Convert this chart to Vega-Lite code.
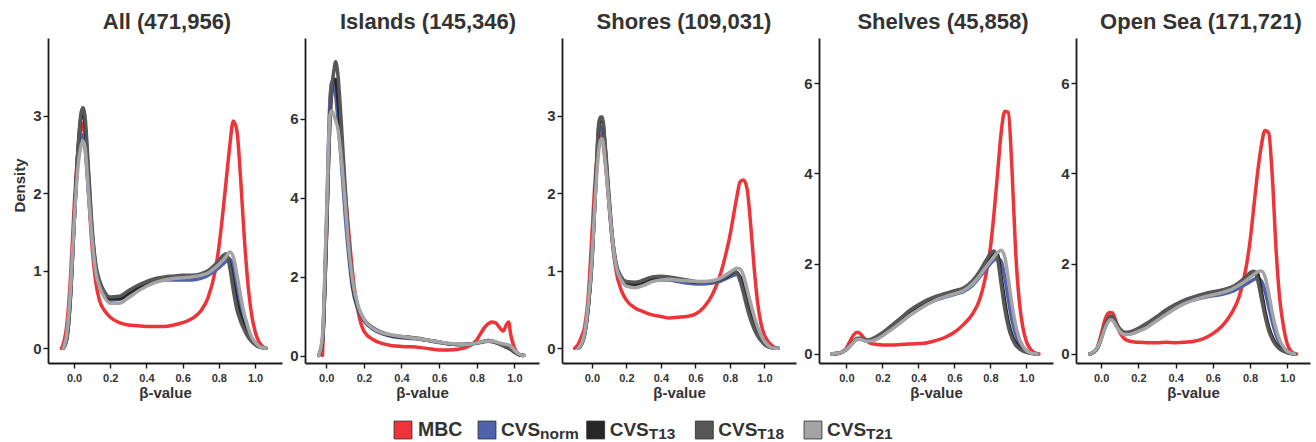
{
  "$schema": "https://vega.github.io/schema/vega-lite/v6.json",
  "background": "white",
  "padding": {"left": 12, "top": 11, "right": 4, "bottom": 4},
  "config": {
    "view": {"stroke": null},
    "font": "Liberation Sans",
    "axis": {"grid": false, "domainColor": "#1a1a1a", "domainWidth": 1.8, "tickColor": "#1a1a1a", "tickWidth": 1.4, "tickSize": 5, "labelFont": "Liberation Sans", "labelFontWeight": "bold", "labelColor": "#333333", "titleFont": "Liberation Sans", "titleFontWeight": "bold", "titleColor": "#333333"},
    "title": {"fontSize": 22, "fontWeight": "bold", "color": "#333333", "anchor": "middle", "offset": 4, "font": "Liberation Sans"},
    "line": {"interpolate": "monotone", "strokeJoin": "round", "strokeCap": "round"}
  },
  "datasets": {
    "d": [
      {"r":"All","x":0.0,"MBC":1.8,"CVSnorm":1.6,"CVST13":1.6,"CVST18":1.6,"CVST21":1.6},
      {"r":"All","x":-0.06,"MBC":0.05,"CVSnorm":0,"CVST13":0,"CVST18":0,"CVST21":0},
      {"r":"All","x":-0.04,"MBC":0.3,"CVSnorm":0.15,"CVST13":0.12,"CVST18":0.12,"CVST21":0.18},
      {"r":"All","x":-0.02,"MBC":0.9,"CVSnorm":0.7,"CVST13":0.65,"CVST18":0.65,"CVST21":0.75},
      {"r":"All","x":0.02,"MBC":2.5,"CVSnorm":2.4,"CVST13":2.5,"CVST18":2.5,"CVST21":2.3},
      {"r":"All","x":0.04,"MBC":2.85,"CVSnorm":2.75,"CVST13":3.0,"CVST18":3.05,"CVST21":2.62},
      {"r":"All","x":0.05,"MBC":2.9,"CVSnorm":2.75,"CVST13":3.05,"CVST18":3.1,"CVST21":2.67},
      {"r":"All","x":0.06,"MBC":2.7,"CVSnorm":2.6,"CVST13":2.9,"CVST18":3.0,"CVST21":2.6},
      {"r":"All","x":0.08,"MBC":2.0,"CVSnorm":2.0,"CVST13":2.2,"CVST18":2.3,"CVST21":2.0},
      {"r":"All","x":0.10,"MBC":1.3,"CVSnorm":1.4,"CVST13":1.5,"CVST18":1.55,"CVST21":1.4},
      {"r":"All","x":0.12,"MBC":0.85,"CVSnorm":1.0,"CVST13":1.05,"CVST18":1.08,"CVST21":0.98},
      {"r":"All","x":0.14,"MBC":0.62,"CVSnorm":0.82,"CVST13":0.85,"CVST18":0.88,"CVST21":0.8},
      {"r":"All","x":0.17,"MBC":0.48,"CVSnorm":0.68,"CVST13":0.7,"CVST18":0.72,"CVST21":0.65},
      {"r":"All","x":0.20,"MBC":0.4,"CVSnorm":0.62,"CVST13":0.64,"CVST18":0.66,"CVST21":0.58},
      {"r":"All","x":0.25,"MBC":0.33,"CVSnorm":0.63,"CVST13":0.64,"CVST18":0.67,"CVST21":0.58},
      {"r":"All","x":0.30,"MBC":0.3,"CVSnorm":0.69,"CVST13":0.7,"CVST18":0.74,"CVST21":0.65},
      {"r":"All","x":0.35,"MBC":0.29,"CVSnorm":0.76,"CVST13":0.78,"CVST18":0.81,"CVST21":0.73},
      {"r":"All","x":0.40,"MBC":0.28,"CVSnorm":0.82,"CVST13":0.84,"CVST18":0.86,"CVST21":0.8},
      {"r":"All","x":0.45,"MBC":0.28,"CVSnorm":0.86,"CVST13":0.88,"CVST18":0.9,"CVST21":0.85},
      {"r":"All","x":0.50,"MBC":0.28,"CVSnorm":0.88,"CVST13":0.9,"CVST18":0.92,"CVST21":0.88},
      {"r":"All","x":0.55,"MBC":0.3,"CVSnorm":0.88,"CVST13":0.91,"CVST18":0.93,"CVST21":0.9},
      {"r":"All","x":0.60,"MBC":0.33,"CVSnorm":0.88,"CVST13":0.92,"CVST18":0.94,"CVST21":0.91},
      {"r":"All","x":0.65,"MBC":0.38,"CVSnorm":0.88,"CVST13":0.92,"CVST18":0.94,"CVST21":0.92},
      {"r":"All","x":0.70,"MBC":0.48,"CVSnorm":0.9,"CVST13":0.95,"CVST18":0.96,"CVST21":0.94},
      {"r":"All","x":0.74,"MBC":0.65,"CVSnorm":0.94,"CVST13":0.99,"CVST18":1.0,"CVST21":0.97},
      {"r":"All","x":0.78,"MBC":1.0,"CVSnorm":1.0,"CVST13":1.06,"CVST18":1.08,"CVST21":1.04},
      {"r":"All","x":0.80,"MBC":1.3,"CVSnorm":1.04,"CVST13":1.1,"CVST18":1.13,"CVST21":1.08},
      {"r":"All","x":0.82,"MBC":1.7,"CVSnorm":1.08,"CVST13":1.16,"CVST18":1.19,"CVST21":1.13},
      {"r":"All","x":0.84,"MBC":2.15,"CVSnorm":1.12,"CVST13":1.2,"CVST18":1.22,"CVST21":1.18},
      {"r":"All","x":0.86,"MBC":2.6,"CVSnorm":1.15,"CVST13":1.1,"CVST18":1.05,"CVST21":1.24},
      {"r":"All","x":0.88,"MBC":2.93,"CVSnorm":1.05,"CVST13":0.85,"CVST18":0.75,"CVST21":1.18},
      {"r":"All","x":0.90,"MBC":2.8,"CVSnorm":0.8,"CVST13":0.6,"CVST18":0.5,"CVST21":0.95},
      {"r":"All","x":0.92,"MBC":2.2,"CVSnorm":0.55,"CVST13":0.42,"CVST18":0.35,"CVST21":0.68},
      {"r":"All","x":0.94,"MBC":1.45,"CVSnorm":0.38,"CVST13":0.28,"CVST18":0.24,"CVST21":0.45},
      {"r":"All","x":0.96,"MBC":0.85,"CVSnorm":0.24,"CVST13":0.17,"CVST18":0.15,"CVST21":0.28},
      {"r":"All","x":0.98,"MBC":0.45,"CVSnorm":0.13,"CVST13":0.1,"CVST18":0.09,"CVST21":0.15},
      {"r":"All","x":1.00,"MBC":0.22,"CVSnorm":0.07,"CVST13":0.05,"CVST18":0.05,"CVST21":0.08},
      {"r":"All","x":1.02,"MBC":0.09,"CVSnorm":0.03,"CVST13":0.02,"CVST18":0.02,"CVST21":0.03},
      {"r":"All","x":1.04,"MBC":0.03,"CVSnorm":0.01,"CVST13":0.01,"CVST18":0.01,"CVST21":0.01},
      {"r":"All","x":1.06,"MBC":0,"CVSnorm":0,"CVST13":0,"CVST18":0,"CVST21":0},
      {"r":"All","x":-0.07,"MBC":0},

      {"r":"Islands","x":0.0,"MBC":2.8,"CVSnorm":3.2,"CVST13":2.9,"CVST18":2.9,"CVST21":3.3},
      {"r":"Islands","x":-0.04,"CVSnorm":0,"CVST13":0,"CVST18":0,"CVST21":0},
      {"r":"Islands","x":-0.02,"MBC":0,"CVSnorm":0.4,"CVST13":0.35,"CVST18":0.35,"CVST21":0.5},
      {"r":"Islands","x":0.02,"MBC":6.4,"CVSnorm":6.5,"CVST13":6.0,"CVST18":6.0,"CVST21":6.1},
      {"r":"Islands","x":0.03,"MBC":6.9,"CVSnorm":6.95,"CVST13":6.7,"CVST18":6.8,"CVST21":6.2},
      {"r":"Islands","x":0.04,"MBC":7.0,"CVSnorm":6.9,"CVST13":7.0,"CVST18":7.2,"CVST21":6.1},
      {"r":"Islands","x":0.05,"MBC":6.8,"CVSnorm":6.6,"CVST13":7.0,"CVST18":7.45,"CVST21":5.95},
      {"r":"Islands","x":0.06,"MBC":6.3,"CVSnorm":6.1,"CVST13":6.6,"CVST18":7.2,"CVST21":5.8},
      {"r":"Islands","x":0.08,"MBC":5.3,"CVSnorm":4.9,"CVST13":5.4,"CVST18":5.9,"CVST21":5.0},
      {"r":"Islands","x":0.10,"MBC":4.2,"CVSnorm":3.6,"CVST13":4.0,"CVST18":4.3,"CVST21":3.9},
      {"r":"Islands","x":0.12,"MBC":3.1,"CVSnorm":2.5,"CVST13":2.7,"CVST18":2.9,"CVST21":2.7},
      {"r":"Islands","x":0.14,"MBC":2.1,"CVSnorm":1.7,"CVST13":1.8,"CVST18":1.9,"CVST21":1.9},
      {"r":"Islands","x":0.17,"MBC":1.1,"CVSnorm":1.15,"CVST13":1.2,"CVST18":1.22,"CVST21":1.25},
      {"r":"Islands","x":0.20,"MBC":0.62,"CVSnorm":0.88,"CVST13":0.9,"CVST18":0.92,"CVST21":0.92},
      {"r":"Islands","x":0.25,"MBC":0.4,"CVSnorm":0.66,"CVST13":0.68,"CVST18":0.7,"CVST21":0.68},
      {"r":"Islands","x":0.30,"MBC":0.3,"CVSnorm":0.55,"CVST13":0.56,"CVST18":0.58,"CVST21":0.57},
      {"r":"Islands","x":0.35,"MBC":0.25,"CVSnorm":0.48,"CVST13":0.5,"CVST18":0.51,"CVST21":0.52},
      {"r":"Islands","x":0.40,"MBC":0.23,"CVSnorm":0.45,"CVST13":0.47,"CVST18":0.48,"CVST21":0.48},
      {"r":"Islands","x":0.45,"MBC":0.22,"CVSnorm":0.43,"CVST13":0.45,"CVST18":0.46,"CVST21":0.45},
      {"r":"Islands","x":0.50,"MBC":0.2,"CVSnorm":0.41,"CVST13":0.42,"CVST18":0.43,"CVST21":0.42},
      {"r":"Islands","x":0.55,"MBC":0.17,"CVSnorm":0.37,"CVST13":0.38,"CVST18":0.38,"CVST21":0.38},
      {"r":"Islands","x":0.60,"MBC":0.14,"CVSnorm":0.33,"CVST13":0.34,"CVST18":0.34,"CVST21":0.34},
      {"r":"Islands","x":0.65,"MBC":0.14,"CVSnorm":0.3,"CVST13":0.3,"CVST18":0.3,"CVST21":0.31},
      {"r":"Islands","x":0.70,"MBC":0.16,"CVSnorm":0.28,"CVST13":0.28,"CVST18":0.28,"CVST21":0.29},
      {"r":"Islands","x":0.74,"MBC":0.2,"CVSnorm":0.28,"CVST13":0.28,"CVST18":0.28,"CVST21":0.28},
      {"r":"Islands","x":0.78,"MBC":0.3,"CVSnorm":0.3,"CVST13":0.3,"CVST18":0.3,"CVST21":0.3},
      {"r":"Islands","x":0.80,"MBC":0.4,"CVSnorm":0.31,"CVST13":0.32,"CVST18":0.32,"CVST21":0.32},
      {"r":"Islands","x":0.82,"MBC":0.55,"CVSnorm":0.33,"CVST13":0.34,"CVST18":0.34,"CVST21":0.34},
      {"r":"Islands","x":0.84,"MBC":0.7,"CVSnorm":0.35,"CVST13":0.36,"CVST18":0.36,"CVST21":0.36},
      {"r":"Islands","x":0.86,"MBC":0.8,"CVSnorm":0.36,"CVST13":0.38,"CVST18":0.38,"CVST21":0.37},
      {"r":"Islands","x":0.88,"MBC":0.85,"CVSnorm":0.35,"CVST13":0.37,"CVST18":0.37,"CVST21":0.37},
      {"r":"Islands","x":0.90,"MBC":0.83,"CVSnorm":0.33,"CVST13":0.34,"CVST18":0.33,"CVST21":0.35},
      {"r":"Islands","x":0.92,"MBC":0.72,"CVSnorm":0.3,"CVST13":0.3,"CVST18":0.29,"CVST21":0.32},
      {"r":"Islands","x":0.94,"MBC":0.62,"CVSnorm":0.28,"CVST13":0.26,"CVST18":0.24,"CVST21":0.3},
      {"r":"Islands","x":0.96,"MBC":0.8,"CVSnorm":0.26,"CVST13":0.22,"CVST18":0.2,"CVST21":0.28},
      {"r":"Islands","x":0.97,"MBC":0.85},
      {"r":"Islands","x":0.98,"MBC":0.55,"CVSnorm":0.22,"CVST13":0.17,"CVST18":0.15,"CVST21":0.24},
      {"r":"Islands","x":1.00,"MBC":0.2,"CVSnorm":0.12,"CVST13":0.09,"CVST18":0.08,"CVST21":0.14},
      {"r":"Islands","x":1.02,"MBC":0.04,"CVSnorm":0.04,"CVST13":0.03,"CVST18":0.03,"CVST21":0.05},
      {"r":"Islands","x":1.04,"MBC":0,"CVSnorm":0.01,"CVST13":0.01,"CVST18":0.01,"CVST21":0.01},
      {"r":"Islands","x":1.05,"CVSnorm":0,"CVST13":0,"CVST18":0,"CVST21":0},

      {"r":"Shores","x":0.0,"MBC":1.45,"CVSnorm":1.15,"CVST13":1.1,"CVST18":1.1,"CVST21":1.15},
      {"r":"Shores","x":-0.10,"MBC":0},
      {"r":"Shores","x":-0.08,"MBC":0.05,"CVSnorm":0,"CVST13":0,"CVST18":0,"CVST21":0},
      {"r":"Shores","x":-0.06,"MBC":0.15,"CVSnorm":0.05,"CVST13":0.05,"CVST18":0.05,"CVST21":0.06},
      {"r":"Shores","x":-0.04,"MBC":0.3,"CVSnorm":0.2,"CVST13":0.2,"CVST18":0.2,"CVST21":0.22},
      {"r":"Shores","x":-0.02,"MBC":0.7,"CVSnorm":0.55,"CVST13":0.55,"CVST18":0.55,"CVST21":0.6},
      {"r":"Shores","x":0.02,"MBC":2.2,"CVSnorm":2.0,"CVST13":2.0,"CVST18":2.0,"CVST21":1.95},
      {"r":"Shores","x":0.04,"MBC":2.65,"CVSnorm":2.75,"CVST13":2.85,"CVST18":2.9,"CVST21":2.55},
      {"r":"Shores","x":0.05,"MBC":2.75,"CVSnorm":2.85,"CVST13":2.95,"CVST18":2.98,"CVST21":2.68},
      {"r":"Shores","x":0.06,"MBC":2.7,"CVSnorm":2.82,"CVST13":2.95,"CVST18":2.98,"CVST21":2.7},
      {"r":"Shores","x":0.08,"MBC":2.35,"CVSnorm":2.4,"CVST13":2.5,"CVST18":2.55,"CVST21":2.35},
      {"r":"Shores","x":0.10,"MBC":1.85,"CVSnorm":1.85,"CVST13":1.9,"CVST18":1.95,"CVST21":1.85},
      {"r":"Shores","x":0.12,"MBC":1.35,"CVSnorm":1.35,"CVST13":1.4,"CVST18":1.42,"CVST21":1.38},
      {"r":"Shores","x":0.14,"MBC":1.0,"CVSnorm":1.05,"CVST13":1.08,"CVST18":1.1,"CVST21":1.06},
      {"r":"Shores","x":0.17,"MBC":0.75,"CVSnorm":0.88,"CVST13":0.9,"CVST18":0.92,"CVST21":0.88},
      {"r":"Shores","x":0.20,"MBC":0.62,"CVSnorm":0.82,"CVST13":0.84,"CVST18":0.86,"CVST21":0.8},
      {"r":"Shores","x":0.25,"MBC":0.52,"CVSnorm":0.8,"CVST13":0.82,"CVST18":0.85,"CVST21":0.78},
      {"r":"Shores","x":0.30,"MBC":0.47,"CVSnorm":0.83,"CVST13":0.85,"CVST18":0.88,"CVST21":0.81},
      {"r":"Shores","x":0.35,"MBC":0.43,"CVSnorm":0.87,"CVST13":0.89,"CVST18":0.92,"CVST21":0.86},
      {"r":"Shores","x":0.40,"MBC":0.41,"CVSnorm":0.88,"CVST13":0.91,"CVST18":0.93,"CVST21":0.88},
      {"r":"Shores","x":0.45,"MBC":0.39,"CVSnorm":0.88,"CVST13":0.91,"CVST18":0.92,"CVST21":0.89},
      {"r":"Shores","x":0.50,"MBC":0.4,"CVSnorm":0.86,"CVST13":0.89,"CVST18":0.9,"CVST21":0.88},
      {"r":"Shores","x":0.55,"MBC":0.41,"CVSnorm":0.84,"CVST13":0.87,"CVST18":0.88,"CVST21":0.87},
      {"r":"Shores","x":0.60,"MBC":0.44,"CVSnorm":0.83,"CVST13":0.85,"CVST18":0.86,"CVST21":0.86},
      {"r":"Shores","x":0.65,"MBC":0.53,"CVSnorm":0.83,"CVST13":0.85,"CVST18":0.85,"CVST21":0.86},
      {"r":"Shores","x":0.70,"MBC":0.7,"CVSnorm":0.84,"CVST13":0.86,"CVST18":0.86,"CVST21":0.87},
      {"r":"Shores","x":0.74,"MBC":0.92,"CVSnorm":0.86,"CVST13":0.88,"CVST18":0.88,"CVST21":0.9},
      {"r":"Shores","x":0.78,"MBC":1.25,"CVSnorm":0.9,"CVST13":0.92,"CVST18":0.93,"CVST21":0.95},
      {"r":"Shores","x":0.80,"MBC":1.45,"CVSnorm":0.92,"CVST13":0.95,"CVST18":0.96,"CVST21":0.98},
      {"r":"Shores","x":0.82,"MBC":1.7,"CVSnorm":0.94,"CVST13":0.98,"CVST18":0.99,"CVST21":1.01},
      {"r":"Shores","x":0.84,"MBC":1.95,"CVSnorm":0.95,"CVST13":0.98,"CVST18":0.97,"CVST21":1.03},
      {"r":"Shores","x":0.86,"MBC":2.15,"CVSnorm":0.92,"CVST13":0.9,"CVST18":0.86,"CVST21":1.02},
      {"r":"Shores","x":0.88,"MBC":2.17,"CVSnorm":0.82,"CVST13":0.75,"CVST18":0.7,"CVST21":0.93},
      {"r":"Shores","x":0.90,"MBC":2.05,"CVSnorm":0.65,"CVST13":0.58,"CVST18":0.52,"CVST21":0.76},
      {"r":"Shores","x":0.92,"MBC":1.6,"CVSnorm":0.48,"CVST13":0.42,"CVST18":0.37,"CVST21":0.58},
      {"r":"Shores","x":0.94,"MBC":1.05,"CVSnorm":0.34,"CVST13":0.29,"CVST18":0.25,"CVST21":0.42},
      {"r":"Shores","x":0.96,"MBC":0.6,"CVSnorm":0.22,"CVST13":0.19,"CVST18":0.16,"CVST21":0.28},
      {"r":"Shores","x":0.98,"MBC":0.32,"CVSnorm":0.13,"CVST13":0.11,"CVST18":0.1,"CVST21":0.17},
      {"r":"Shores","x":1.00,"MBC":0.17,"CVSnorm":0.07,"CVST13":0.06,"CVST18":0.05,"CVST21":0.09},
      {"r":"Shores","x":1.02,"MBC":0.09,"CVSnorm":0.03,"CVST13":0.03,"CVST18":0.02,"CVST21":0.04},
      {"r":"Shores","x":1.04,"MBC":0.04,"CVSnorm":0.01,"CVST13":0.01,"CVST18":0.01,"CVST21":0.01},
      {"r":"Shores","x":1.06,"MBC":0.01,"CVSnorm":0,"CVST13":0,"CVST18":0,"CVST21":0},
      {"r":"Shores","x":1.08,"MBC":0,"CVSnorm":0,"CVST13":0,"CVST18":0,"CVST21":0},

      {"r":"Shelves","x":0.0,"MBC":0.13,"CVSnorm":0.1,"CVST13":0.1,"CVST18":0.1,"CVST21":0.1},
      {"r":"Shelves","x":-0.08,"CVSnorm":0,"CVST13":0,"CVST18":0,"CVST21":0},
      {"r":"Shelves","x":-0.06,"MBC":0,"CVSnorm":0.01,"CVST13":0.01,"CVST18":0.01,"CVST21":0.01},
      {"r":"Shelves","x":-0.04,"MBC":0.01,"CVSnorm":0.02,"CVST13":0.02,"CVST18":0.02,"CVST21":0.02},
      {"r":"Shelves","x":-0.02,"MBC":0.05,"CVSnorm":0.05,"CVST13":0.05,"CVST18":0.05,"CVST21":0.05},
      {"r":"Shelves","x":0.02,"MBC":0.28,"CVSnorm":0.18,"CVST13":0.18,"CVST18":0.18,"CVST21":0.17},
      {"r":"Shelves","x":0.04,"MBC":0.42,"CVSnorm":0.27,"CVST13":0.27,"CVST18":0.28,"CVST21":0.26},
      {"r":"Shelves","x":0.06,"MBC":0.48,"CVSnorm":0.33,"CVST13":0.34,"CVST18":0.35,"CVST21":0.32},
      {"r":"Shelves","x":0.08,"MBC":0.44,"CVSnorm":0.33,"CVST13":0.34,"CVST18":0.35,"CVST21":0.32},
      {"r":"Shelves","x":0.10,"MBC":0.34,"CVSnorm":0.3,"CVST13":0.31,"CVST18":0.32,"CVST21":0.29},
      {"r":"Shelves","x":0.12,"MBC":0.27,"CVSnorm":0.29,"CVST13":0.3,"CVST18":0.31,"CVST21":0.28},
      {"r":"Shelves","x":0.14,"MBC":0.23,"CVSnorm":0.3,"CVST13":0.31,"CVST18":0.33,"CVST21":0.29},
      {"r":"Shelves","x":0.17,"MBC":0.21,"CVSnorm":0.35,"CVST13":0.37,"CVST18":0.39,"CVST21":0.33},
      {"r":"Shelves","x":0.20,"MBC":0.2,"CVSnorm":0.42,"CVST13":0.45,"CVST18":0.47,"CVST21":0.4},
      {"r":"Shelves","x":0.25,"MBC":0.2,"CVSnorm":0.56,"CVST13":0.6,"CVST18":0.63,"CVST21":0.54},
      {"r":"Shelves","x":0.30,"MBC":0.21,"CVSnorm":0.7,"CVST13":0.76,"CVST18":0.79,"CVST21":0.69},
      {"r":"Shelves","x":0.35,"MBC":0.22,"CVSnorm":0.86,"CVST13":0.93,"CVST18":0.96,"CVST21":0.85},
      {"r":"Shelves","x":0.40,"MBC":0.23,"CVSnorm":1.0,"CVST13":1.06,"CVST18":1.09,"CVST21":0.98},
      {"r":"Shelves","x":0.45,"MBC":0.25,"CVSnorm":1.12,"CVST13":1.18,"CVST18":1.2,"CVST21":1.1},
      {"r":"Shelves","x":0.50,"MBC":0.3,"CVSnorm":1.2,"CVST13":1.26,"CVST18":1.28,"CVST21":1.2},
      {"r":"Shelves","x":0.55,"MBC":0.37,"CVSnorm":1.26,"CVST13":1.32,"CVST18":1.34,"CVST21":1.27},
      {"r":"Shelves","x":0.60,"MBC":0.48,"CVSnorm":1.32,"CVST13":1.38,"CVST18":1.4,"CVST21":1.33},
      {"r":"Shelves","x":0.65,"MBC":0.65,"CVSnorm":1.38,"CVST13":1.44,"CVST18":1.46,"CVST21":1.4},
      {"r":"Shelves","x":0.70,"MBC":0.88,"CVSnorm":1.52,"CVST13":1.6,"CVST18":1.62,"CVST21":1.55},
      {"r":"Shelves","x":0.74,"MBC":1.2,"CVSnorm":1.7,"CVST13":1.8,"CVST18":1.83,"CVST21":1.73},
      {"r":"Shelves","x":0.78,"MBC":1.85,"CVSnorm":1.9,"CVST13":2.05,"CVST18":2.1,"CVST21":1.95},
      {"r":"Shelves","x":0.80,"MBC":2.35,"CVSnorm":2.0,"CVST13":2.17,"CVST18":2.22,"CVST21":2.05},
      {"r":"Shelves","x":0.82,"MBC":3.1,"CVSnorm":2.08,"CVST13":2.25,"CVST18":2.28,"CVST21":2.15},
      {"r":"Shelves","x":0.84,"MBC":4.0,"CVSnorm":2.12,"CVST13":2.2,"CVST18":2.1,"CVST21":2.25},
      {"r":"Shelves","x":0.86,"MBC":4.9,"CVSnorm":2.05,"CVST13":1.7,"CVST18":1.55,"CVST21":2.3},
      {"r":"Shelves","x":0.88,"MBC":5.38,"CVSnorm":1.7,"CVST13":1.15,"CVST18":1.0,"CVST21":2.15},
      {"r":"Shelves","x":0.90,"MBC":5.35,"CVSnorm":1.2,"CVST13":0.7,"CVST18":0.6,"CVST21":1.65},
      {"r":"Shelves","x":0.92,"MBC":4.1,"CVSnorm":0.75,"CVST13":0.42,"CVST18":0.35,"CVST21":1.1},
      {"r":"Shelves","x":0.94,"MBC":2.3,"CVSnorm":0.45,"CVST13":0.25,"CVST18":0.2,"CVST21":0.65},
      {"r":"Shelves","x":0.96,"MBC":1.2,"CVSnorm":0.25,"CVST13":0.14,"CVST18":0.12,"CVST21":0.35},
      {"r":"Shelves","x":0.98,"MBC":0.6,"CVSnorm":0.13,"CVST13":0.08,"CVST18":0.07,"CVST21":0.18},
      {"r":"Shelves","x":1.00,"MBC":0.28,"CVSnorm":0.06,"CVST13":0.04,"CVST18":0.04,"CVST21":0.08},
      {"r":"Shelves","x":1.02,"MBC":0.12,"CVSnorm":0.03,"CVST13":0.02,"CVST18":0.02,"CVST21":0.03},
      {"r":"Shelves","x":1.04,"MBC":0.04,"CVSnorm":0.01,"CVST13":0.01,"CVST18":0.01,"CVST21":0.01},
      {"r":"Shelves","x":1.06,"MBC":0.01,"CVSnorm":0,"CVST13":0,"CVST18":0,"CVST21":0},
      {"r":"Shelves","x":1.07,"MBC":0},

      {"r":"OpenSea","x":0.0,"MBC":0.43,"CVSnorm":0.33,"CVST13":0.34,"CVST18":0.35,"CVST21":0.33},
      {"r":"OpenSea","x":-0.06,"MBC":0,"CVSnorm":0,"CVST13":0,"CVST18":0,"CVST21":0},
      {"r":"OpenSea","x":-0.04,"MBC":0.04,"CVSnorm":0.04,"CVST13":0.04,"CVST18":0.04,"CVST21":0.05},
      {"r":"OpenSea","x":-0.02,"MBC":0.15,"CVSnorm":0.13,"CVST13":0.13,"CVST18":0.13,"CVST21":0.14},
      {"r":"OpenSea","x":0.02,"MBC":0.75,"CVSnorm":0.58,"CVST13":0.6,"CVST18":0.62,"CVST21":0.56},
      {"r":"OpenSea","x":0.04,"MBC":0.91,"CVSnorm":0.75,"CVST13":0.78,"CVST18":0.8,"CVST21":0.72},
      {"r":"OpenSea","x":0.05,"MBC":0.92,"CVSnorm":0.8,"CVST13":0.82,"CVST18":0.84,"CVST21":0.76},
      {"r":"OpenSea","x":0.06,"MBC":0.91,"CVSnorm":0.79,"CVST13":0.81,"CVST18":0.83,"CVST21":0.75},
      {"r":"OpenSea","x":0.08,"MBC":0.72,"CVSnorm":0.65,"CVST13":0.67,"CVST18":0.69,"CVST21":0.62},
      {"r":"OpenSea","x":0.10,"MBC":0.48,"CVSnorm":0.52,"CVST13":0.54,"CVST18":0.56,"CVST21":0.5},
      {"r":"OpenSea","x":0.12,"MBC":0.36,"CVSnorm":0.46,"CVST13":0.47,"CVST18":0.49,"CVST21":0.44},
      {"r":"OpenSea","x":0.14,"MBC":0.3,"CVSnorm":0.45,"CVST13":0.46,"CVST18":0.48,"CVST21":0.43},
      {"r":"OpenSea","x":0.17,"MBC":0.27,"CVSnorm":0.47,"CVST13":0.49,"CVST18":0.51,"CVST21":0.45},
      {"r":"OpenSea","x":0.20,"MBC":0.26,"CVSnorm":0.52,"CVST13":0.55,"CVST18":0.57,"CVST21":0.5},
      {"r":"OpenSea","x":0.25,"MBC":0.25,"CVSnorm":0.62,"CVST13":0.66,"CVST18":0.69,"CVST21":0.6},
      {"r":"OpenSea","x":0.30,"MBC":0.25,"CVSnorm":0.76,"CVST13":0.8,"CVST18":0.83,"CVST21":0.74},
      {"r":"OpenSea","x":0.35,"MBC":0.26,"CVSnorm":0.9,"CVST13":0.95,"CVST18":0.98,"CVST21":0.88},
      {"r":"OpenSea","x":0.40,"MBC":0.25,"CVSnorm":1.03,"CVST13":1.07,"CVST18":1.1,"CVST21":1.01},
      {"r":"OpenSea","x":0.45,"MBC":0.26,"CVSnorm":1.13,"CVST13":1.17,"CVST18":1.2,"CVST21":1.12},
      {"r":"OpenSea","x":0.50,"MBC":0.28,"CVSnorm":1.2,"CVST13":1.25,"CVST18":1.27,"CVST21":1.2},
      {"r":"OpenSea","x":0.55,"MBC":0.34,"CVSnorm":1.25,"CVST13":1.3,"CVST18":1.33,"CVST21":1.26},
      {"r":"OpenSea","x":0.60,"MBC":0.45,"CVSnorm":1.29,"CVST13":1.35,"CVST18":1.38,"CVST21":1.31},
      {"r":"OpenSea","x":0.65,"MBC":0.62,"CVSnorm":1.32,"CVST13":1.39,"CVST18":1.42,"CVST21":1.36},
      {"r":"OpenSea","x":0.70,"MBC":0.9,"CVSnorm":1.38,"CVST13":1.46,"CVST18":1.48,"CVST21":1.43},
      {"r":"OpenSea","x":0.74,"MBC":1.25,"CVSnorm":1.46,"CVST13":1.56,"CVST18":1.58,"CVST21":1.52},
      {"r":"OpenSea","x":0.78,"MBC":1.95,"CVSnorm":1.55,"CVST13":1.68,"CVST18":1.72,"CVST21":1.63},
      {"r":"OpenSea","x":0.80,"MBC":2.5,"CVSnorm":1.6,"CVST13":1.76,"CVST18":1.8,"CVST21":1.7},
      {"r":"OpenSea","x":0.82,"MBC":3.25,"CVSnorm":1.65,"CVST13":1.82,"CVST18":1.83,"CVST21":1.76},
      {"r":"OpenSea","x":0.84,"MBC":4.0,"CVSnorm":1.68,"CVST13":1.78,"CVST18":1.65,"CVST21":1.82},
      {"r":"OpenSea","x":0.86,"MBC":4.6,"CVSnorm":1.62,"CVST13":1.4,"CVST18":1.25,"CVST21":1.84},
      {"r":"OpenSea","x":0.88,"MBC":4.95,"CVSnorm":1.4,"CVST13":0.95,"CVST18":0.85,"CVST21":1.72},
      {"r":"OpenSea","x":0.90,"MBC":4.9,"CVSnorm":1.05,"CVST13":0.6,"CVST18":0.52,"CVST21":1.35},
      {"r":"OpenSea","x":0.92,"MBC":3.9,"CVSnorm":0.7,"CVST13":0.37,"CVST18":0.32,"CVST21":0.9},
      {"r":"OpenSea","x":0.94,"MBC":2.3,"CVSnorm":0.42,"CVST13":0.22,"CVST18":0.19,"CVST21":0.55},
      {"r":"OpenSea","x":0.96,"MBC":1.2,"CVSnorm":0.23,"CVST13":0.13,"CVST18":0.11,"CVST21":0.3},
      {"r":"OpenSea","x":0.98,"MBC":0.6,"CVSnorm":0.12,"CVST13":0.07,"CVST18":0.06,"CVST21":0.15},
      {"r":"OpenSea","x":1.00,"MBC":0.22,"CVSnorm":0.05,"CVST13":0.03,"CVST18":0.03,"CVST21":0.06},
      {"r":"OpenSea","x":1.02,"MBC":0.06,"CVSnorm":0.02,"CVST13":0.01,"CVST18":0.01,"CVST21":0.02},
      {"r":"OpenSea","x":1.04,"MBC":0.01,"CVSnorm":0,"CVST13":0,"CVST18":0,"CVST21":0},
      {"r":"OpenSea","x":1.05,"MBC":0}
    ],
    "leg": [
      {"s": "MBC", "m": "MBC", "b": ""},
      {"s": "CVSnorm", "m": "CVS", "b": "norm"},
      {"s": "CVST13", "m": "CVS", "b": "T13"},
      {"s": "CVST18", "m": "CVS", "b": "T18"},
      {"s": "CVST21", "m": "CVS", "b": "T21"}
    ]
  },
  "vconcat": [
    {
      "hconcat": [
        {
          "width": 234, "height": 325,
          "title": {"text": "All (471,956)", "dx": 2},
          "data": {"name": "d"},
          "transform": [{"filter": "datum.r == 'All'"}, {"fold": ["MBC", "CVSnorm", "CVST13", "CVST18", "CVST21"], "as": ["s", "y"]}, {"filter": "isValid(datum.y)"}],
          "mark": {"type": "line"},
          "encoding": {
            "x": {"field": "x", "type": "quantitative", "scale": {"domain": [-0.144, 1.149], "nice": false, "zero": false}, "axis": {"title": "β-value", "values": [0, 0.2, 0.4, 0.6, 0.8, 1], "format": ".1f", "labelFontSize": 11, "labelPadding": 4, "titleFontSize": 15, "titlePadding": 2}},
            "y": {"field": "y", "type": "quantitative", "scale": {"domain": [-0.19, 4.0], "nice": false, "zero": false}, "axis": {"title": "Density", "values": [0, 1, 2, 3], "labelFontSize": 15, "labelPadding": 2, "titleFontSize": 15, "titlePadding": 5, "titleY": 147}},
            "color": {"field": "s", "type": "nominal", "scale": {"domain": ["MBC", "CVSnorm", "CVST13", "CVST18", "CVST21"], "range": ["#EE3438", "#4E62AE", "#262626", "#575757", "#A4A4A4"]}, "legend": null},
            "strokeWidth": {"field": "s", "type": "nominal", "scale": {"domain": ["MBC", "CVSnorm", "CVST13", "CVST18", "CVST21"], "range": [3.5, 3.5, 4.5, 5.5, 6]}, "legend": null}
          }
        },
        {
          "width": 234, "height": 325,
          "title": {"text": "Islands (145,346)", "dx": 6},
          "data": {"name": "d"},
          "transform": [{"filter": "datum.r == 'Islands'"}, {"fold": ["MBC", "CVSnorm", "CVST13", "CVST18", "CVST21"], "as": ["s", "y"]}, {"filter": "isValid(datum.y)"}],
          "mark": {"type": "line"},
          "encoding": {
            "x": {"field": "x", "type": "quantitative", "scale": {"domain": [-0.113, 1.131], "nice": false, "zero": false}, "axis": {"title": "β-value", "values": [0, 0.2, 0.4, 0.6, 0.8, 1], "format": ".1f", "labelFontSize": 11, "labelPadding": 4, "titleFontSize": 15, "titlePadding": 2}},
            "y": {"field": "y", "type": "quantitative", "scale": {"domain": [-0.19, 8.05], "nice": false, "zero": false}, "axis": {"title": null, "values": [0, 2, 4, 6], "labelFontSize": 15, "labelPadding": 2}},
            "color": {"field": "s", "type": "nominal", "scale": {"domain": ["MBC", "CVSnorm", "CVST13", "CVST18", "CVST21"], "range": ["#EE3438", "#4E62AE", "#262626", "#575757", "#A4A4A4"]}, "legend": null},
            "strokeWidth": {"field": "s", "type": "nominal", "scale": {"domain": ["MBC", "CVSnorm", "CVST13", "CVST18", "CVST21"], "range": [3.5, 3.5, 4.5, 5.5, 6]}, "legend": null}
          }
        },
        {
          "width": 234, "height": 325,
          "title": {"text": "Shores (109,031)", "dx": 5},
          "data": {"name": "d"},
          "transform": [{"filter": "datum.r == 'Shores'"}, {"fold": ["MBC", "CVSnorm", "CVST13", "CVST18", "CVST21"], "as": ["s", "y"]}, {"filter": "isValid(datum.y)"}],
          "mark": {"type": "line"},
          "encoding": {
            "x": {"field": "x", "type": "quantitative", "scale": {"domain": [-0.173, 1.183], "nice": false, "zero": false}, "axis": {"title": "β-value", "values": [0, 0.2, 0.4, 0.6, 0.8, 1], "format": ".1f", "labelFontSize": 11, "labelPadding": 4, "titleFontSize": 15, "titlePadding": 2}},
            "y": {"field": "y", "type": "quantitative", "scale": {"domain": [-0.19, 4.0], "nice": false, "zero": false}, "axis": {"title": null, "values": [0, 1, 2, 3], "labelFontSize": 15, "labelPadding": 2}},
            "color": {"field": "s", "type": "nominal", "scale": {"domain": ["MBC", "CVSnorm", "CVST13", "CVST18", "CVST21"], "range": ["#EE3438", "#4E62AE", "#262626", "#575757", "#A4A4A4"]}, "legend": null},
            "strokeWidth": {"field": "s", "type": "nominal", "scale": {"domain": ["MBC", "CVSnorm", "CVST13", "CVST18", "CVST21"], "range": [3.5, 3.5, 4.5, 5.5, 6]}, "legend": null}
          }
        },
        {
          "width": 234, "height": 325,
          "title": {"text": "Shelves (45,858)", "dx": 7},
          "data": {"name": "d"},
          "transform": [{"filter": "datum.r == 'Shelves'"}, {"fold": ["MBC", "CVSnorm", "CVST13", "CVST18", "CVST21"], "as": ["s", "y"]}, {"filter": "isValid(datum.y)"}],
          "mark": {"type": "line"},
          "encoding": {
            "x": {"field": "x", "type": "quantitative", "scale": {"domain": [-0.152, 1.148], "nice": false, "zero": false}, "axis": {"title": "β-value", "values": [0, 0.2, 0.4, 0.6, 0.8, 1], "format": ".1f", "labelFontSize": 11, "labelPadding": 4, "titleFontSize": 15, "titlePadding": 2}},
            "y": {"field": "y", "type": "quantitative", "scale": {"domain": [-0.2, 7.0], "nice": false, "zero": false}, "axis": {"title": null, "values": [0, 2, 4, 6], "labelFontSize": 15, "labelPadding": 2}},
            "color": {"field": "s", "type": "nominal", "scale": {"domain": ["MBC", "CVSnorm", "CVST13", "CVST18", "CVST21"], "range": ["#EE3438", "#4E62AE", "#262626", "#575757", "#A4A4A4"]}, "legend": null},
            "strokeWidth": {"field": "s", "type": "nominal", "scale": {"domain": ["MBC", "CVSnorm", "CVST13", "CVST18", "CVST21"], "range": [3.5, 3.5, 4.5, 5.5, 6]}, "legend": null}
          }
        },
        {
          "width": 234, "height": 325,
          "title": {"text": "Open Sea (171,721)", "dx": 8},
          "data": {"name": "d"},
          "transform": [{"filter": "datum.r == 'OpenSea'"}, {"fold": ["MBC", "CVSnorm", "CVST13", "CVST18", "CVST21"], "as": ["s", "y"]}, {"filter": "isValid(datum.y)"}],
          "mark": {"type": "line"},
          "encoding": {
            "x": {"field": "x", "type": "quantitative", "scale": {"domain": [-0.135, 1.122], "nice": false, "zero": false}, "axis": {"title": "β-value", "values": [0, 0.2, 0.4, 0.6, 0.8, 1], "format": ".1f", "labelFontSize": 11, "labelPadding": 4, "titleFontSize": 15, "titlePadding": 2}},
            "y": {"field": "y", "type": "quantitative", "scale": {"domain": [-0.2, 7.0], "nice": false, "zero": false}, "axis": {"title": null, "values": [0, 2, 4, 6], "labelFontSize": 15, "labelPadding": 2}},
            "color": {"field": "s", "type": "nominal", "scale": {"domain": ["MBC", "CVSnorm", "CVST13", "CVST18", "CVST21"], "range": ["#EE3438", "#4E62AE", "#262626", "#575757", "#A4A4A4"]}, "legend": null},
            "strokeWidth": {"field": "s", "type": "nominal", "scale": {"domain": ["MBC", "CVSnorm", "CVST13", "CVST18", "CVST21"], "range": [3.5, 3.5, 4.5, 5.5, 6]}, "legend": null}
          }
        }
      ],
      "spacing": 23,
      "bounds": "flush"
    },
    {
      "hconcat": [
        {
          "width": 420, "height": 20,
          "data": {"name": "leg"},
          "transform": [{"filter": "datum.s == 'MBC'"}],
          "encoding": {
            "x": {"field": "s", "type": "nominal", "scale": {"type": "point", "padding": 0, "range": [355, 355], "domain": ["MBC"]}, "axis": null}
          },
          "layer": [
            {
              "mark": {"type": "square", "size": 320, "filled": true, "opacity": 1, "stroke": "#2a2a2a", "strokeWidth": 0.8},
              "encoding": {"color": {"field": "s", "type": "nominal", "scale": {"domain": ["MBC", "CVSnorm", "CVST13", "CVST18", "CVST21"], "range": ["#EE3438", "#4E62AE", "#262626", "#575757", "#A4A4A4"]}, "legend": null}}
            },
            {
              "mark": {"type": "text", "align": "left", "baseline": "middle", "dx": 15, "fontSize": 19.5, "fontWeight": "bold", "color": "#333333"},
              "encoding": {"text": {"field": "m"}}
            }
          ]
        },
        {
          "width": 400, "height": 20,
          "data": {"name": "leg"},
          "transform": [{"filter": "datum.s != 'MBC'"}],
          "encoding": {
            "x": {"field": "s", "type": "nominal", "scale": {"type": "point", "padding": 0, "range": [19, 345], "domain": ["CVSnorm", "CVST13", "CVST18", "CVST21"]}, "axis": null}
          },
          "layer": [
            {
              "mark": {"type": "square", "size": 320, "filled": true, "opacity": 1, "stroke": "#2a2a2a", "strokeWidth": 0.8},
              "encoding": {"color": {"field": "s", "type": "nominal", "scale": {"domain": ["MBC", "CVSnorm", "CVST13", "CVST18", "CVST21"], "range": ["#EE3438", "#4E62AE", "#262626", "#575757", "#A4A4A4"]}, "legend": null}}
            },
            {
              "mark": {"type": "text", "align": "left", "baseline": "middle", "dx": 14, "fontSize": 19, "fontWeight": "bold", "color": "#333333"},
              "encoding": {"text": {"field": "m"}}
            },
            {
              "mark": {"type": "text", "align": "left", "baseline": "middle", "dx": 53, "dy": 4, "fontSize": 15.5, "fontWeight": "bold", "color": "#333333"},
              "encoding": {"text": {"field": "b"}}
            }
          ]
        }
      ],
      "spacing": 0,
      "bounds": "flush",
      "resolve": {"scale": {"x": "independent"}}
    }
  ],
  "spacing": 19
}
